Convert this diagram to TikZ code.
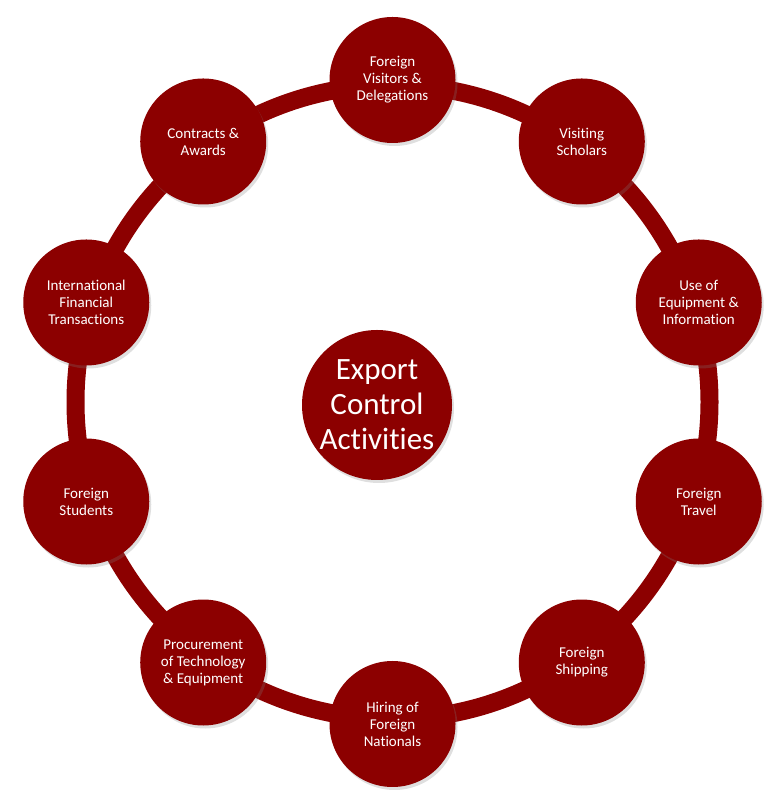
\documentclass[tikz,border=0pt]{standalone}
\usepackage{fontspec}
\setmainfont[Ligatures=NoCommon]{Carlito}
\usetikzlibrary{shadows}
\definecolor{ecred}{RGB}{140,0,0}
\tikzset{
  activity/.style={circle, fill=ecred, text=white, minimum size=126pt, inner sep=0pt, align=center,
    font=\fontsize{15}{17}\selectfont, drop shadow={opacity=0.25, shadow xshift=2pt, shadow yshift=-3pt}},
  hub/.style={activity, minimum size=150pt, font=\fontsize{31}{35}\selectfont}
}
\begin{document}
\begin{tikzpicture}[x=1pt, y=1pt]
				\useasboundingbox (0,0) rectangle (782,800);
				\coordinate (ring) at (392.5,398);

				% Ring
				\draw[ecred, line width=18pt] (ring) circle (317);

				% Activities
				\node[activity] (visitors) at ([shift={(90:322)}]ring) {Foreign\\Visitors \&\\Delegations};
				\node[activity] (scholars) at ([shift={(54:322)}]ring) {Visiting\\Scholars};
				\node[activity] (equipment) at ([shift={(18:322)}]ring) {Use of\\Equipment \&\\Information};
				\node[activity] (travel) at ([shift={(-18:322)}]ring) {Foreign\\Travel};
				\node[activity] (shipping) at ([shift={(-54:322)}]ring) {Foreign\\Shipping};
				\node[activity] (hiring) at ([shift={(-90:322)}]ring) {Hiring of\\Foreign\\Nationals};
				\node[activity] (procurement) at ([shift={(-126:322)}]ring) {Procurement\\of Technology\\\& Equipment};
				\node[activity] (students) at ([shift={(-162:322)}]ring) {Foreign\\Students};
				\node[activity] (financial) at ([shift={(162:322)}]ring) {International\\Financial\\Transactions};
				\node[activity] (contracts) at ([shift={(126:322)}]ring) {Contracts \&\\Awards};

				% Centre
				\node[hub] (export) at (377,395) {Export\\Control\\Activities};
\end{tikzpicture}
\end{document}
